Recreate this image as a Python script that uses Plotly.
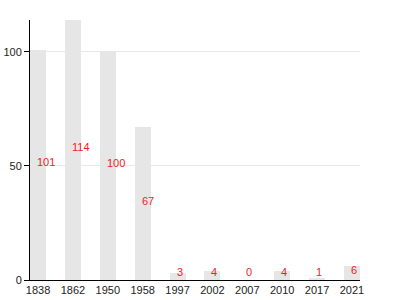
import plotly.graph_objects as go

years = ["1838", "1862", "1950", "1958", "1997", "2002", "2007", "2010", "2017", "2021"]
values = [101, 114, 100, 67, 3, 4, 0, 4, 1, 6]

bar_w = 0.46

fig = go.Figure()
fig.add_trace(go.Bar(
    x=list(range(len(years))), y=values, width=bar_w,
    marker=dict(color="#e6e6e6", line=dict(width=0)),
    hoverinfo="skip",
))

annotations = []
for i, v in enumerate(values):
    annotations.append(dict(
        x=i, y=max(v / 2, 2.0), xref="x", yref="y",
        text=str(v), showarrow=False, xanchor="left", yanchor="middle",
        xshift=-3, yshift=3, font=dict(color="#ee1c25", size=11, family="Liberation Sans, Arial"),
    ))

fig.update_layout(
    width=400, height=300,
    margin=dict(l=30, r=40, t=20, b=20, autoexpand=False),
    paper_bgcolor="white", plot_bgcolor="white",
    showlegend=False,
    annotations=annotations,
    font=dict(family="Liberation Sans, Arial", size=11, color="#222"),
    xaxis=dict(
        tickmode="array", tickvals=list(range(len(years))), ticktext=years,
        range=[-bar_w / 2, len(years) - 1 + bar_w / 2],
        showline=True, linecolor="black", linewidth=1,
        showgrid=False, ticks="", zeroline=False, automargin=False,
        tickfont=dict(size=11, color="#222"),
    ),
    yaxis=dict(
        range=[0, 114], tickvals=[0, 50, 100],
        showline=True, linecolor="black", linewidth=1,
        showgrid=True, gridcolor="#e8e8e8", gridwidth=1,
        ticks="outside", ticklen=5, tickcolor="black",
        zeroline=False, automargin=False, tickfont=dict(size=11, color="#222"),
    ),
    bargap=0,
)

fig.write_html("out.html")
